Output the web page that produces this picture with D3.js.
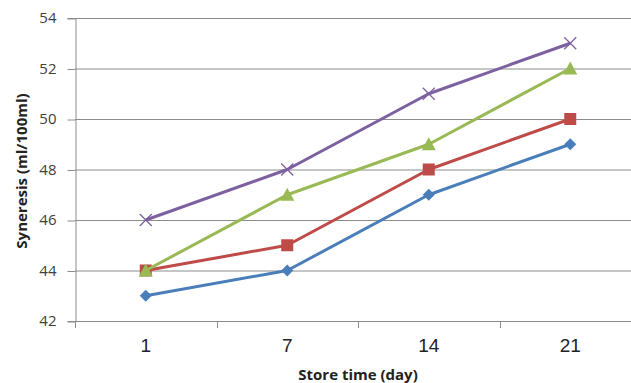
<!DOCTYPE html>
<html><head><meta charset="utf-8">
<script src="https://cdn.jsdelivr.net/npm/d3@7"></script>
<style>body{margin:0;background:#fff}svg{display:block}</style>
</head><body>
<script>
const categories = ["1","7","14","21"];
const blueVals = [43,44,47,49];
const redVals = [44,45,48,50];
const greenVals = [44,47,49,52];
const purpleVals = [46,48,51,53];
const yTicks = [42,44,46,48,50,52,54];
const colors = ["#4A7EBB","#BE4B48","#98B954","#7D60A0"];
const shapes = ["diamond","square","triangle","x"];
const seriesVals = [blueVals, redVals, greenVals, purpleVals];

const W=631,H=383;
const svg=d3.select("body").append("svg").attr("width",W).attr("height",H);
const x=d3.scaleBand().domain(categories).range([75,641]);
const y=d3.scaleLinear().domain([42,54]).range([321,18]);

// gridlines
svg.append("g").selectAll("line").data(yTicks).join("line")
 .attr("x1",75).attr("x2",W).attr("y1",d=>y(d)+0.5).attr("y2",d=>y(d)+0.5)
 .attr("stroke","#8c8c8c").attr("stroke-width",1);

// y axis
const ya=svg.append("g").attr("transform","translate(75.5,0)")
 .call(d3.axisLeft(y).tickValues(yTicks).tickSize(8).tickPadding(11));
ya.select(".domain").attr("stroke","#8c8c8c");
ya.selectAll(".tick line").attr("stroke","#8c8c8c").attr("transform","translate(0,0.5)");
ya.selectAll("text").attr("font-family","'Open Sans',sans-serif").attr("font-size",15).attr("fill","#404040");

// x axis
const xa=svg.append("g").attr("transform","translate(0,321.5)")
 .call(d3.axisBottom(x).tickSize(0).tickPadding(17));
xa.select(".domain").attr("stroke","#8c8c8c").attr("d","M75,0H"+W);
xa.selectAll("text").attr("font-family","'Liberation Sans',Arial,sans-serif").attr("font-size",19).attr("fill","#222");
// category boundary ticks
svg.append("g").selectAll("line").data(categories.slice(1)).join("line")
 .attr("x1",d=>Math.round(x(d))+0.5).attr("x2",d=>Math.round(x(d))+0.5)
 .attr("y1",321).attr("y2",328).attr("stroke","#8c8c8c");
svg.append("line").attr("x1",75.5).attr("x2",75.5).attr("y1",321).attr("y2",328).attr("stroke","#8c8c8c");

// titles
svg.append("text").attr("transform","translate(27,171) rotate(-90)").attr("text-anchor","middle")
 .attr("font-family","'Open Sans',sans-serif").attr("font-size",15).attr("font-weight","bold").attr("fill","#222")
 .text("Syneresis (ml/100ml)");
svg.append("text").attr("x",358).attr("y",380).attr("text-anchor","middle")
 .attr("font-family","'Open Sans',sans-serif").attr("font-size",15).attr("font-weight","bold").attr("fill","#222")
 .text("Store time (day)");

const cx=c=>x(c)+x.bandwidth()/2;
const line=d3.line().x((d,i)=>cx(categories[i])).y(d=>y(d));
seriesVals.forEach((vals,si)=>{
  const g=svg.append("g");
  g.append("path").datum(vals).attr("d",line).attr("fill","none").attr("stroke",colors[si]).attr("stroke-width",3).attr("stroke-linejoin","round");
  vals.forEach((v,i)=>{
    const px=cx(categories[i]), py=y(v);
    const s=shapes[si];
    if(s==="diamond"){
      g.append("path").attr("d",`M${px},${py-6}L${px+6},${py}L${px},${py+6}L${px-6},${py}Z`).attr("fill",colors[si]);
    } else if(s==="square"){
      g.append("rect").attr("x",px-6).attr("y",py-6).attr("width",12).attr("height",12).attr("fill",colors[si]);
    } else if(s==="triangle"){
      g.append("path").attr("d",`M${px},${py-7}L${px+7},${py+6}L${px-7},${py+6}Z`).attr("fill",colors[si]);
    } else {
      g.append("path").attr("d",`M${px-6},${py-6}L${px+6},${py+6}M${px+6},${py-6}L${px-6},${py+6}`).attr("stroke",colors[si]).attr("stroke-width",1.3);
    }
  });
});
</script>
</body></html>
